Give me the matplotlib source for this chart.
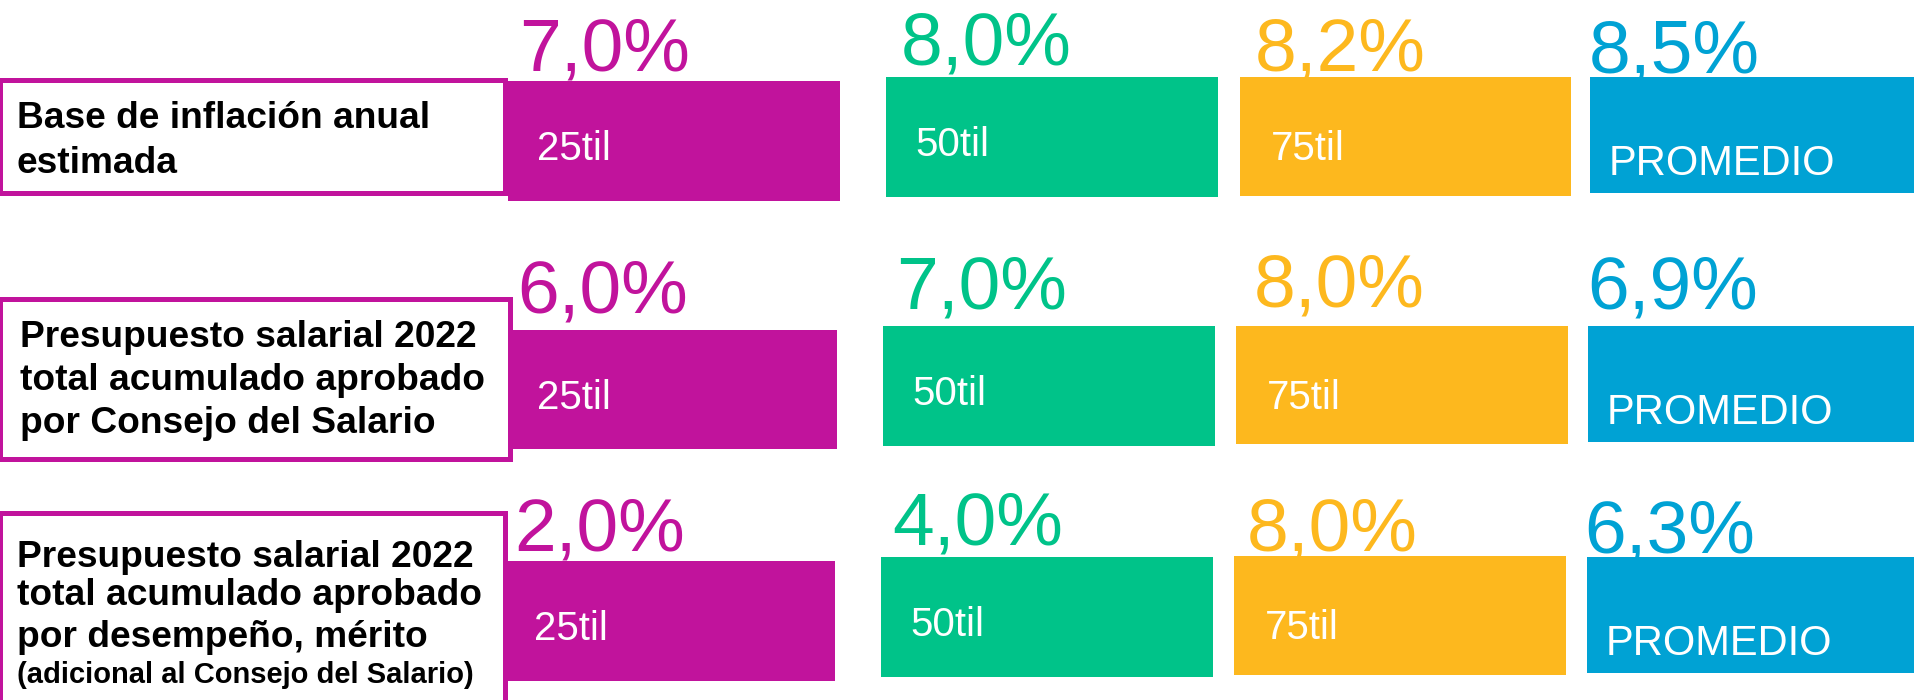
import matplotlib.pyplot as plt
from matplotlib.patches import Rectangle

# data
row_labels = [
    "Base de inflación anual\nestimada",
    "Presupuesto salarial 2022\ntotal acumulado aprobado\npor Consejo del Salario",
    "Presupuesto salarial 2022\ntotal acumulado aprobado\npor desempeño, mérito",
]
row_notes = ["", "", "(adicional al Consejo del Salario)"]
categories = ["25til", "50til", "75til", "PROMEDIO"]
values = [
    [7.0, 8.0, 8.2, 8.5],
    [6.0, 7.0, 8.0, 6.9],
    [2.0, 4.0, 8.0, 6.3],
]
colors = ["#C1139C", "#00C389", "#FDB81E", "#00A2D4"]

# layout (pixels)
bar_left = [[508, 886, 1240, 1590], [508, 883, 1236, 1588], [505, 881, 1234, 1587]]
bar_right = [[840, 1218, 1571, 1915], [837, 1215, 1568, 1915], [835, 1213, 1566, 1915]]
bar_top = [[81, 77, 77, 77], [330, 326, 326, 326], [561, 557, 556, 557]]
bar_bot = [[201, 197, 196, 193], [449, 446, 444, 442], [681, 677, 675, 673]]
pct_x = [[519, 901, 1255, 1589], [517, 896, 1254, 1587], [514, 892, 1247, 1584]]
pct_base = [[70, 65, 71, 73], [312, 308, 306, 308], [550, 545, 551, 553]]
cat_dx = [29, 29, 31, 19]
cat_dy = [79, 79, 83, 98]
boxes = [(0, 505, 80, 193), (0, 510, 299, 459), (0, 505, 513, 720)]
line_base = [[128, 173], [347, 390, 433], [567, 605, 647, 683]]
label_x = [17, 20, 17]

plt.rcParams['font.family'] = ['Liberation Sans', 'DejaVu Sans']

fig = plt.figure(figsize=(19.15, 7), dpi=100)
ax = fig.add_axes([0, 0, 1, 1])
ax.set_xlim(0, 1915)
ax.set_ylim(700, 0)
ax.axis('off')

for r in range(len(values)):
    x0, x1, y0, y1 = boxes[r]
    ax.add_patch(Rectangle((x0, y0), x1 - x0, y1 - y0, facecolor='white',
                           edgecolor=colors[0], lw=3.6, zorder=1))
    lines = row_labels[r].split("\n")
    for i, line in enumerate(lines):
        ax.text(label_x[r], line_base[r][i], line, fontsize=26.7, fontweight='bold',
                va='baseline', ha='left', color='black', zorder=3)
    if row_notes[r]:
        ax.text(label_x[r], line_base[r][len(lines)], row_notes[r], fontsize=21,
                fontweight='bold', va='baseline', ha='left', color='black', zorder=3)

    for c, cat in enumerate(categories):
        left = bar_left[r][c]
        ax.bar(left, bar_bot[r][c] - bar_top[r][c], width=bar_right[r][c] - left,
               bottom=bar_top[r][c], align='edge', color=colors[c], zorder=2)
        ax.text(pct_x[r][c], pct_base[r][c], f"{values[r][c]:.1f}%".replace(".", ","),
                fontsize=54, color=colors[c], va='baseline', ha='left', zorder=3)
        ax.text(left + cat_dx[c], bar_top[r][c] + cat_dy[c], cat,
                fontsize=30 if cat == "PROMEDIO" else 29, color='white',
                va='baseline', ha='left', zorder=3)

fig.savefig("out.png", dpi=100)
